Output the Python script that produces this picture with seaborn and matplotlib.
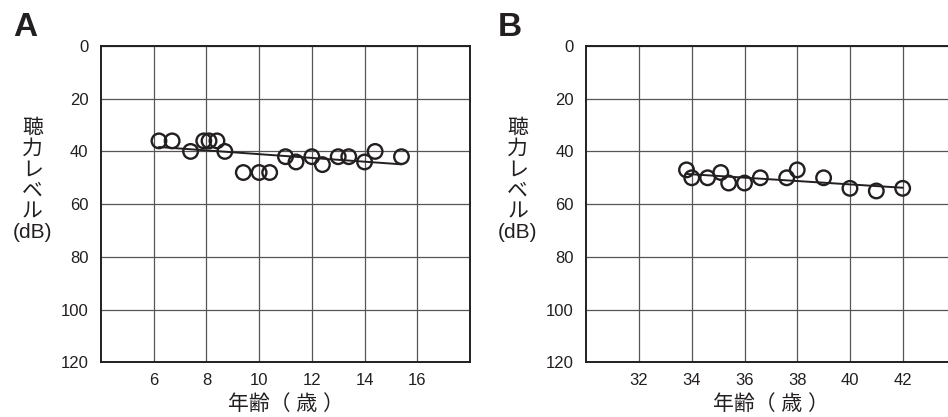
import matplotlib
matplotlib.use("Agg")
import matplotlib.pyplot as plt
import seaborn as sns

# ---------------------------
# Data
# ---------------------------
age_a = [6.2, 6.7, 7.4, 7.9, 8.1, 8.4, 8.7, 9.4, 10.0, 10.4,
         11.0, 11.4, 12.0, 12.4, 13.0, 13.4, 14.0, 14.4, 15.4]
db_a = [36, 36, 40, 36, 36, 36, 40, 48, 48, 48,
        42, 44, 42, 45, 42, 42, 44, 40, 42]

age_b = [33.8, 34.0, 34.6, 35.1, 35.4, 36.0, 36.6, 37.6, 38.0,
         39.0, 40.0, 41.0, 42.0]
db_b = [47, 50, 50, 48, 52, 52, 50, 50, 47, 50, 54, 55, 54]

xticks_a = [6, 8, 10, 12, 14, 16]
xticks_b = [32, 34, 36, 38, 40, 42]
yticks = [0, 20, 40, 60, 80, 100, 120]

ylabel = "聴\n力\nレ\nベ\nル\n(dB)"
xlabel = "年齢（ 歳 ）"

# ---------------------------
# Style
# ---------------------------
sns.set_style("white")
plt.rcParams["font.family"] = ["Liberation Sans", "Noto Sans CJK JP", "DejaVu Sans"]

ink = "#231f20"
grid_col = "#555555"

fig = plt.figure(figsize=(9.48, 4.17), dpi=100)
ax_a = fig.add_axes([0.1065, 0.1312, 0.3893, 0.7585])
ax_b = fig.add_axes([0.6185, 0.1312, 0.3893, 0.7585])

panels = [
    (ax_a, age_a, db_a, xticks_a, (4, 18), "A", 25),
    (ax_b, age_b, db_b, xticks_b, (30, 44), "B", 510),
]

for ax, x, y, xt, xl, tag, tag_x in panels:
    sns.regplot(x=x, y=y, ax=ax, ci=None, marker="o",
                scatter_kws=dict(facecolors="none", edgecolors=ink, s=110,
                                 linewidths=1.7, alpha=1, zorder=3),
                line_kws=dict(color=ink, lw=1.4, zorder=2))
    ax.set_xlim(*xl)
    ax.set_ylim(120, 0)
    ax.set_xticks(xt)
    ax.set_yticks(yticks)
    ax.grid(True, color=grid_col, lw=0.9)
    ax.set_axisbelow(True)
    for s in ax.spines.values():
        s.set_visible(True)
        s.set_color(ink)
        s.set_linewidth(1.4)
    ax.tick_params(axis="both", length=0, labelsize=12, colors=ink)
    ax.tick_params(axis="y", pad=9)
    ax.tick_params(axis="x", pad=8)
    ax.set_xlabel(xlabel, fontsize=15, color=ink, labelpad=4)
    ax.set_ylabel(ylabel, fontsize=15, color=ink, rotation=0,
                  ha="center", va="center", linespacing=1.12)
    fig.text(tag_x / 948, 1 - 27 / 417, tag, fontsize=24, fontweight="bold",
             ha="center", va="center", color=ink)

ax_a.yaxis.set_label_coords(-0.186, 0.575)
ax_b.yaxis.set_label_coords(-0.186, 0.575)

plt.savefig("out.png", dpi=100)
